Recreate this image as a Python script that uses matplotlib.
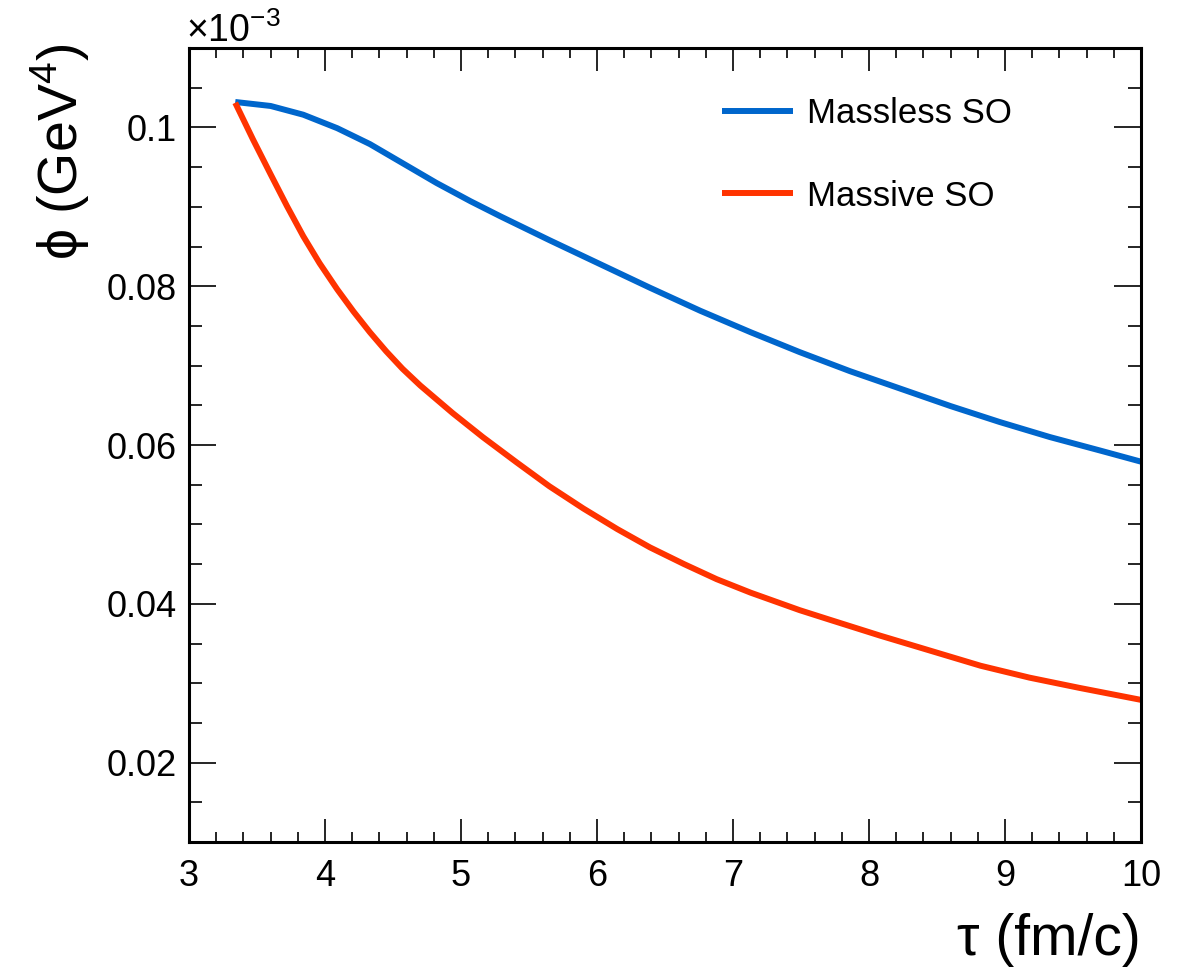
import matplotlib
matplotlib.use("Agg")
import matplotlib.pyplot as plt
from matplotlib.ticker import MultipleLocator, FuncFormatter

plt.rcParams['font.family'] = ['Liberation Sans', 'DejaVu Sans']
plt.rcParams['mathtext.fontset'] = 'custom'
plt.rcParams['mathtext.rm'] = 'Liberation Sans'
plt.rcParams['mathtext.it'] = 'Liberation Sans'
plt.rcParams['mathtext.bf'] = 'Liberation Sans'

# Data (phi in units of 1e-3 GeV^4)
tau_massless = [3.34, 3.60, 3.84, 4.09, 4.33, 4.57, 4.82, 5.07, 5.29, 5.65,
                6.02, 6.39, 6.76, 7.13, 7.49, 7.86, 8.23, 8.60, 8.96, 9.33, 9.70, 10.0]
phi_massless = [0.1032, 0.1027, 0.1016, 0.0999, 0.0979, 0.0955, 0.0930, 0.0907, 0.0888,
                0.0858, 0.0828, 0.0798, 0.0769, 0.0742, 0.0717, 0.0693, 0.0671, 0.0649,
                0.0629, 0.0610, 0.0593, 0.0579]

tau_massive = [3.34, 3.47, 3.60, 3.72, 3.84, 3.96, 4.09, 4.21, 4.33, 4.45, 4.57, 4.70,
               4.94, 5.16, 5.41, 5.65, 5.90, 6.15, 6.39, 6.64, 6.88, 7.13, 7.49, 7.71,
               8.08, 8.45, 8.82, 9.18, 9.55, 10.0]
phi_massive = [0.1031, 0.0985, 0.0941, 0.0901, 0.0863, 0.0829, 0.0796, 0.0768, 0.0742,
               0.0718, 0.0696, 0.0675, 0.0640, 0.0610, 0.0578, 0.0548, 0.0520, 0.0494,
               0.0471, 0.0450, 0.0431, 0.0414, 0.0392, 0.0380, 0.0360, 0.0341, 0.0322,
               0.0307, 0.0294, 0.0279]

labels = ["Massless SO", "Massive SO"]
colors = ["#0066CC", "#FF3300"]

fig = plt.figure(figsize=(11.88, 9.71), dpi=100)
ax = fig.add_axes([189/1188, 1-842/971, (1141-189)/1188, (842-48)/971])

ax.plot(tau_massless, phi_massless, color=colors[0], lw=4.3, label=labels[0],
        solid_capstyle='butt', solid_joinstyle='round')
ax.plot(tau_massive, phi_massive, color=colors[1], lw=4.3, label=labels[1],
        solid_capstyle='butt', solid_joinstyle='round')

ax.set_xlim(3, 10)
ax.set_ylim(0.01, 0.11)
ax.xaxis.set_major_locator(MultipleLocator(1))
ax.xaxis.set_minor_locator(MultipleLocator(0.2))
ax.yaxis.set_major_locator(MultipleLocator(0.02))
ax.yaxis.set_minor_locator(MultipleLocator(0.005))
ax.yaxis.set_major_formatter(FuncFormatter(lambda v, p: "%g" % round(v, 4)))
ax.xaxis.set_major_formatter(FuncFormatter(lambda v, p: "%g" % v))

ax.tick_params(axis='both', which='both', direction='in', top=True, right=True,
               width=1.2, color='black')
ax.tick_params(axis='x', which='major', length=16.5, labelsize=26, pad=12)
ax.tick_params(axis='x', which='minor', length=7.5)
ax.tick_params(axis='y', which='major', length=19.5, labelsize=26, pad=9)
ax.tick_params(axis='y', which='minor', length=9.5)
for s in ax.spines.values():
    s.set_linewidth(2.2)

fig.text(1141/1188, 1-940/971, "τ (fm/c)", fontsize=41, ha='right', va='center')
fig.text(60/1188, 1-43/971, "ϕ (GeV$^{4}$)", fontsize=40, ha='center', va='top',
         rotation=90)
fig.text(186/1188, 1-42/971, "×10$^{-3}$", fontsize=27, ha='left', va='baseline')

ax.legend(loc='center left', bbox_to_anchor=(722/1188, 1-155/971),
          bbox_transform=fig.transFigure, frameon=False, fontsize=25,
          handlelength=2.05, handletextpad=0.4, labelspacing=1.42,
          borderpad=0, borderaxespad=0)

fig.savefig("out.png", dpi=100)
